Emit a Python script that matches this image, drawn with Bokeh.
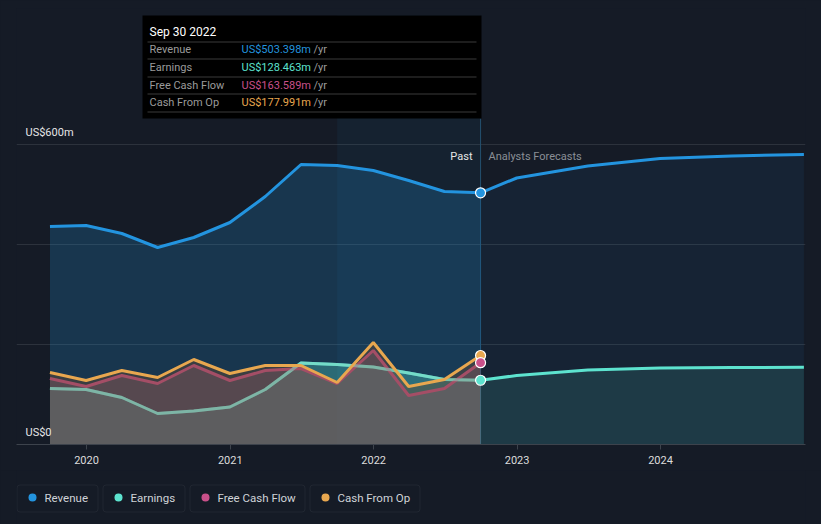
import pandas as pd
from bokeh.plotting import figure
from bokeh.layouts import column
from bokeh.core.properties import value
from bokeh.models import (Range1d, FixedTicker, Label, BoxAnnotation,
                          DatetimeTickFormatter, Grid)
from bokeh.embed import file_html
from bokeh.resources import INLINE

# ---------------- data ----------------
past_dates = ["2019-09-30", "2019-12-31", "2020-03-31", "2020-06-30", "2020-09-30",
              "2020-12-31", "2021-03-31", "2021-06-30", "2021-09-30", "2021-12-31",
              "2022-03-31", "2022-06-30", "2022-09-30"]
revenue_past = [436, 438, 422, 394, 414, 444, 496, 560, 558, 548, 528, 506, 503.398]
earnings_past = [112, 110, 94, 62, 67, 75, 110, 163, 160, 155, 143, 130, 128.463]
fcf_past = [132, 116, 138, 122, 158, 128, 148, 152, 122, 188, 98, 112, 163.589]
cfo_past = [144, 128, 148, 134, 170, 142, 158, 158, 124, 204, 116, 130, 177.991]

fc_dates = ["2022-09-30", "2022-12-31", "2023-06-30", "2023-12-31", "2024-06-30", "2024-12-31"]
revenue_fc = [503.398, 533, 557, 572, 577, 580]
earnings_fc = [128.463, 138, 149, 153, 154, 154.5]

year_ticks = [2020, 2021, 2022, 2023, 2024]
grid_values = [0, 200, 400, 600]
y_label_values = [0, 600]
y_label_texts = ["US$0", "US$600m"]

series_names = ["Revenue", "Earnings", "Free Cash Flow", "Cash From Op"]
tooltip_date = "Sep 30 2022"
tooltip_values = ["US$503.398m", "US$128.463m", "US$163.589m", "US$177.991m"]
past_start, past_end = "2021-09-30", "2022-09-30"

# ---------------- style ----------------
BG = "#151b26"
C_REV, C_EARN, C_FCF, C_CFO = "#2394df", "#5de3cf", "#c9508a", "#e8a74f"
colors = [C_REV, C_EARN, C_FCF, C_CFO]
FONT = "Roboto"


def ms(d):
    return pd.Timestamp(d).value / 1e6


# page-pixel helpers (frame: x 16..805, y 8..444)
T20, T24 = ms("2020-01-01"), ms("2024-01-01")
MSPX = (T24 - T20) / 574.0
X0 = T20 - 70 * MSPX
X1 = X0 + 789 * MSPX


def px_x(page_x):
    return X0 + (page_x - 16) * MSPX


def px_y(page_y):
    return (444 - page_y) * 2.0


p = figure(width=821, height=470, x_axis_type="datetime", y_axis_location=None,
           x_range=Range1d(X0, X1), y_range=Range1d(0, 872),
           output_backend="svg", toolbar_location=None,
           min_border_left=16, min_border_right=16, min_border_top=8, min_border_bottom=26,
           background_fill_color=BG, border_fill_color=BG, outline_line_color=None)

p.xgrid.visible = False
p.ygrid.visible = False
p.add_layout(Grid(dimension=1, ticker=FixedTicker(ticks=grid_values),
                  grid_line_color="#2c323c", grid_line_width=1))

ax = p.xaxis[0]
ax.ticker = FixedTicker(ticks=[ms(f"{y}-01-01") for y in year_ticks])
ax.formatter = DatetimeTickFormatter(years="%Y", months="%Y", days="%Y", hours="%Y",
                                     hourmin="%Y", minutes="%Y", minsec="%Y",
                                     seconds="%Y", milliseconds="%Y", microseconds="%Y")
ax.axis_line_color = "#3d434c"
ax.major_tick_line_color = "#3d434c"
ax.major_tick_in = 0
ax.major_tick_out = 5
ax.minor_tick_line_color = None
ax.major_label_text_color = "#dcdcdc"
ax.major_label_text_font = FONT
ax.major_label_text_font_size = "11px"
ax.major_label_standoff = 6

# past highlight band
p.add_layout(BoxAnnotation(left=ms(past_start), right=ms(past_end), bottom=0, top=px_y(15),
                           fill_color=C_REV, fill_alpha=0.06, line_color=None,
                           level="underlay"))

pdt = pd.to_datetime(past_dates)
fdt = pd.to_datetime(fc_dates)

# past areas + lines
p.varea(x=pdt, y1=0, y2=revenue_past, fill_color=C_REV, fill_alpha=0.22)
p.line(pdt, revenue_past, line_color=C_REV, line_width=3)
p.varea(x=pdt, y1=0, y2=earnings_past, fill_color=C_EARN, fill_alpha=0.3)
p.line(pdt, earnings_past, line_color=C_EARN, line_width=3)
p.varea(x=pdt, y1=0, y2=fcf_past, fill_color="#a56a96", fill_alpha=0.33)
p.line(pdt, fcf_past, line_color=C_FCF, line_width=3)
p.varea(x=pdt, y1=0, y2=cfo_past, fill_color="#6e4a30", fill_alpha=0.4)
p.line(pdt, earnings_past, line_color="#86d6c2", line_width=3, line_alpha=0.55)
p.line(pdt, cfo_past, line_color=C_CFO, line_width=3)

# forecast areas + lines
p.varea(x=fdt, y1=0, y2=revenue_fc, fill_color=C_REV, fill_alpha=0.075)
p.line(fdt, revenue_fc, line_color=C_REV, line_width=3)
p.varea(x=fdt, y1=0, y2=earnings_fc, fill_color=C_EARN, fill_alpha=0.12)
p.line(fdt, earnings_fc, line_color=C_EARN, line_width=3)

# divider between past and forecast (below the tooltip)
p.add_layout(BoxAnnotation(left=ms(past_end) - 0.5 * MSPX, right=ms(past_end) + 0.5 * MSPX,
                           bottom=0, top=px_y(118), fill_color="#24506f", fill_alpha=1,
                           line_color=None, level="underlay"))

# end markers
last_x = [pdt[-1]] * 4
last_y = [revenue_past[-1], earnings_past[-1], cfo_past[-1], fcf_past[-1]]
p.scatter(x=last_x, y=last_y, fill_color=[C_REV, C_EARN, C_CFO, C_FCF],
          line_color="white", line_width=1.2, size=10)


def lab(x, y, text, color, size="11px", align="left", baseline="middle"):
    p.add_layout(Label(x=x, y=y, text=text, text_color=color, text_font=FONT,
                       text_font_size=size, text_align=align, text_baseline=baseline))


# y labels
for v, t in zip(y_label_values, y_label_texts):
    lab(px_x(25), v + 24, t, "#e6e6e6")

# past / forecast labels
lab(px_x(472), px_y(156), "Past", "#e6e6e6", align="right")
lab(px_x(488), px_y(156), "Analysts Forecasts", "#8a8f96")

# tooltip box
p.add_layout(BoxAnnotation(left=px_x(142), right=px_x(481), top=px_y(15), bottom=px_y(118),
                           fill_color="#000000", fill_alpha=1, line_color=None))
for yy in [41, 58, 76, 93, 111]:
    p.add_layout(BoxAnnotation(left=px_x(147), right=px_x(476), top=px_y(yy), bottom=px_y(yy + 1),
                               fill_color="#3a3a3a", fill_alpha=1, line_color=None))
lab(px_x(149), px_y(31), tooltip_date, "#ffffff", size="12px")
for i, (name, val, col) in enumerate(zip(series_names, tooltip_values, colors)):
    yrow = [49, 67, 85, 102][i]
    lab(px_x(149), px_y(yrow), name, "#9b9b9b")
    lab(px_x(241), px_y(yrow), val, col)
    lab(px_x(313), px_y(yrow), "/yr", "#9b9b9b")

# ---------------- legend strip (page y 470..524, frame x 16..805) ----------------
lg = figure(width=821, height=54, x_range=Range1d(16, 805), y_range=Range1d(524, 470),
            x_axis_location=None, y_axis_location=None,
            output_backend="svg", toolbar_location=None,
            min_border_left=16, min_border_right=16, min_border_top=0, min_border_bottom=0,
            background_fill_color=BG, border_fill_color=BG, outline_line_color=None)
lg.xgrid.visible = False
lg.ygrid.visible = False

box_l = [16, 102, 189, 309]
box_r = [97, 184, 304, 419]
for l, r in zip(box_l, box_r):
    lg.add_layout(BoxAnnotation(left=l + 0.5, right=r + 0.5, top=484.5, bottom=511.5,
                                fill_color=None, line_color="#3b414b",
                                line_width=1, border_radius=3, level="underlay"))
lg.scatter(x=[l + 16 for l in box_l], y=[497] * 4, size=8, fill_color=colors,
           line_color=None)
lg.text(x=[l + 28 for l in box_l], y=[497.5] * 4, text=series_names,
        text_color="#d0d3d8", text_font=value(FONT), text_font_size="11.5px",
        text_baseline="middle", text_align="left")

layout = column(p, lg, spacing=0)
html = file_html(layout, INLINE)
html = html.replace("</head>", "<style>body{background:#151b26;}</style></head>", 1)
open("out.html", "w").write(html)
